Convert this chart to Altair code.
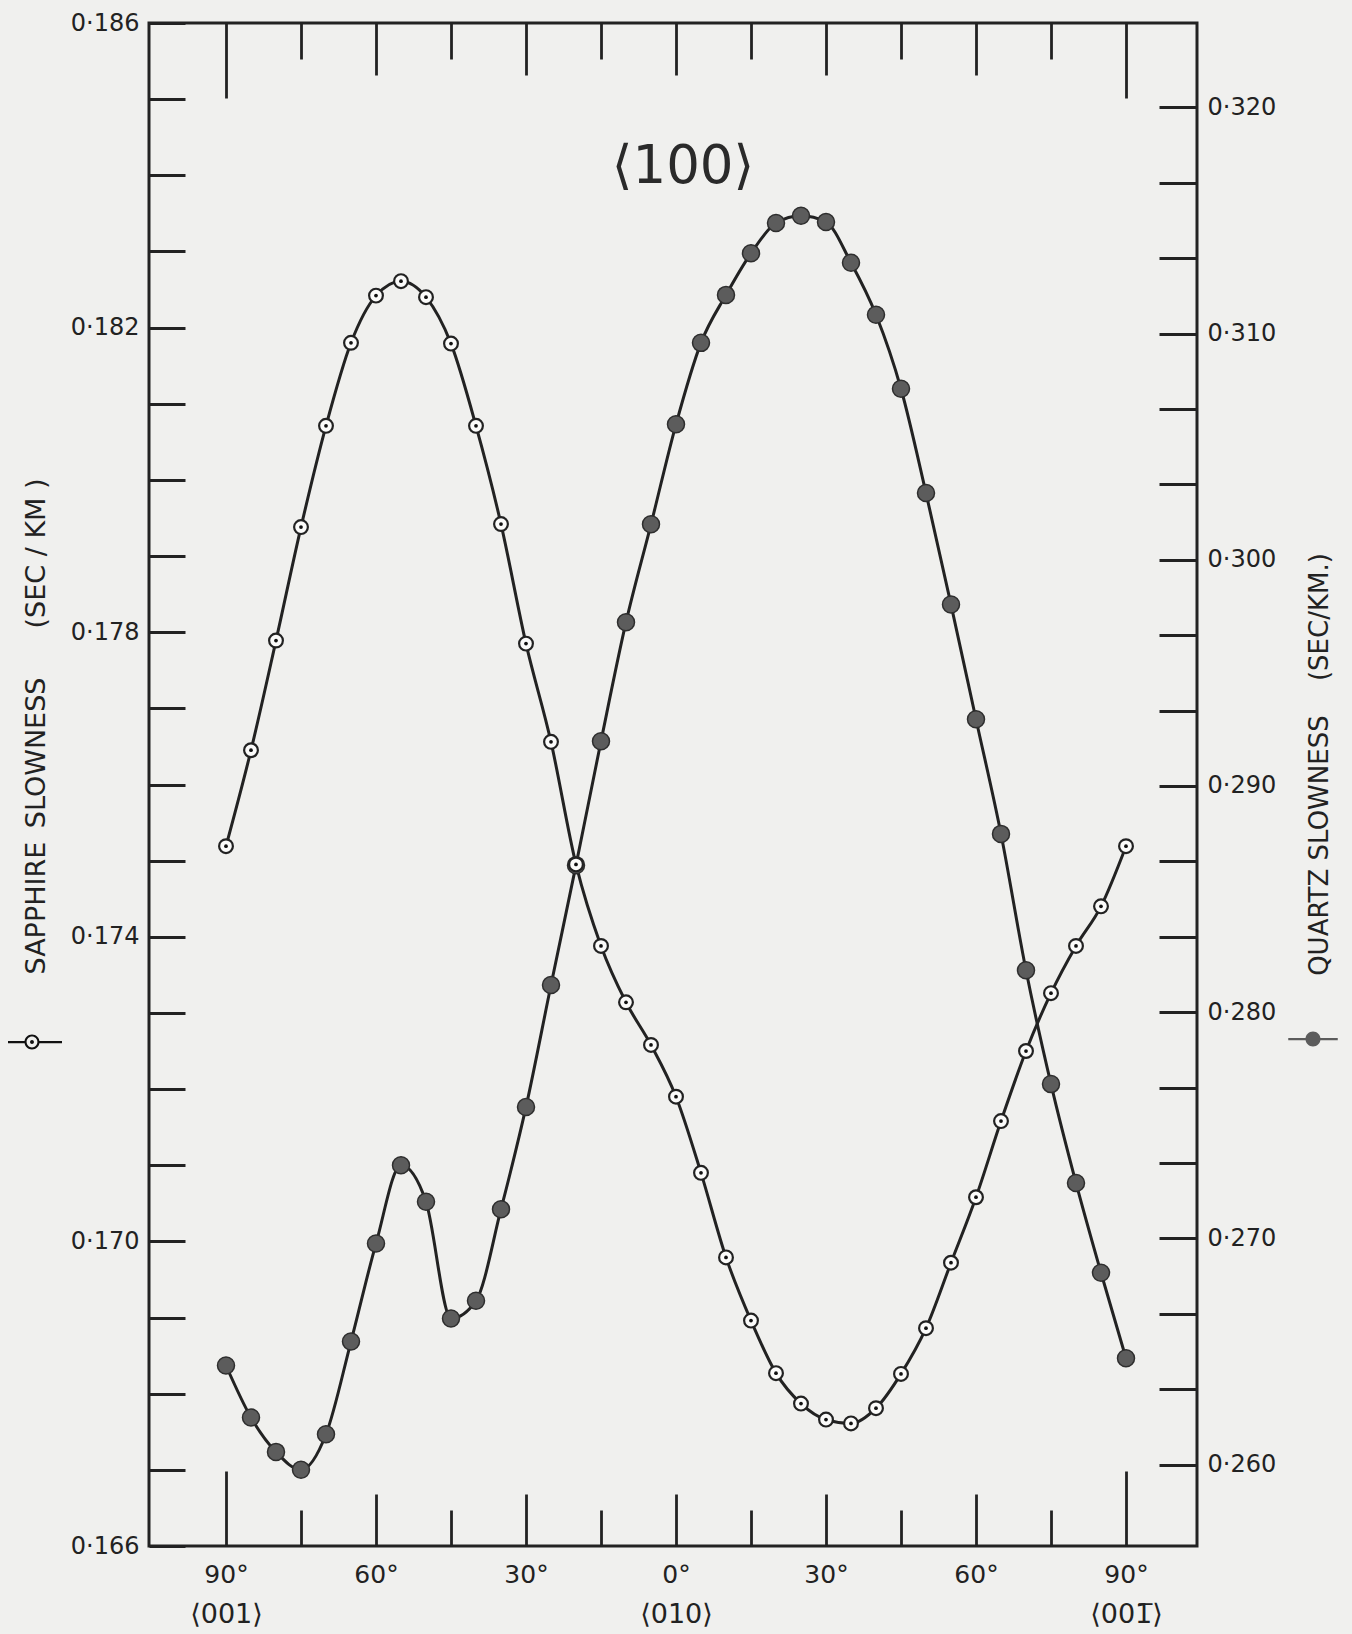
import altair as alt
import pandas as pd

# ---------------- data ----------------
ANGLES = [-90, -85, -80, -75, -70, -65, -60, -55, -50, -45, -40, -35, -30, -25,
          -20, -15, -10, -5, 0, 5, 10, 15, 20, 25, 30, 35, 40, 45, 50, 55, 60,
          65, 70, 75, 80, 85, 90]

SAPPHIRE = [0.17519, 0.17645, 0.17789, 0.17938, 0.18071, 0.18180, 0.18242,
            0.18261, 0.18240, 0.18179, 0.18071, 0.17942, 0.17785, 0.17656,
            0.17495, 0.17388, 0.17314, 0.17258, 0.17190, 0.17090, 0.16979,
            0.16896, 0.16827, 0.16787, 0.16766, 0.16761, 0.16781, 0.16826,
            0.16886, 0.16972, 0.17058, 0.17158, 0.17250, 0.17326, 0.17388,
            0.17440, 0.17519]

QUARTZ = [0.26438, 0.26208, 0.26056, 0.25977, 0.26134, 0.26544, 0.26977,
          0.27323, 0.27162, 0.26646, 0.26724, 0.27129, 0.27581, 0.28120,
          0.28650, 0.29198, 0.29724, 0.30157, 0.30599, 0.30959, 0.31171,
          0.31355, 0.31489, 0.31521, 0.31493, 0.31313, 0.31083, 0.30756,
          0.30295, 0.29802, 0.29295, 0.28788, 0.28185, 0.27682, 0.27245,
          0.26848, 0.26470]

X_TICKS = [-90, -75, -60, -45, -30, -15, 0, 15, 30, 45, 60, 75, 90]
X_LABEL_TICKS = [-90, -60, -30, 0, 30, 60, 90]
DIRECTION_TICKS = [-90, 0, 90]
SAPPHIRE_TICKS = [0.166, 0.167, 0.168, 0.169, 0.170, 0.171, 0.172, 0.173,
                  0.174, 0.175, 0.176, 0.177, 0.178, 0.179, 0.180, 0.181,
                  0.182, 0.183, 0.184, 0.185, 0.186]
SAPPHIRE_LABEL_TICKS = [0.166, 0.170, 0.174, 0.178, 0.182, 0.186]
QUARTZ_TICKS = [round(0.26 + k / 300, 6) for k in range(19)]
QUARTZ_LABEL_TICKS = [0.26, 0.27, 0.28, 0.29, 0.30, 0.31, 0.32]

X_DOMAIN = [-105.4, 104.2]
SAPPHIRE_DOMAIN = [0.166, 0.186]
QUARTZ_DOMAIN = [0.2564, 0.32373]

TITLE = "\u27e8100\u27e9"
LEFT_TITLE = "SAPPHIRE\u2002SLOWNESS\u2003\u2002 (SEC / KM )"
RIGHT_TITLE = "QUARTZ SLOWNESS\u2003 (SEC/KM.)"
DIR_EXPR = ("datum.value < 0 ? '\u27e8001\u27e9' : "
            "(datum.value > 0 ? '\u27e8001\u0305\u27e9' : '\u27e8010\u27e9')")

# ---------------- style ----------------
W, H = 1048, 1523
INK = "#222222"
PAPER = "#f0f0ee"
FONT = "DejaVu Sans"
Y_LABEL_EXPR = "replace(format(datum.value, '.3f'), '.', '\u00b7')"
TICK_SIZE_X = {"condition": [{"test": "abs(datum.value) == 90", "value": 75},
                             {"test": "datum.value % 30 == 0", "value": 52}],
               "value": 36}

SAPPHIRE_KEY = ("M-3.2,-0.15H-0.9V0.15H-3.2Z M0.9,-0.15H4V0.15H0.9Z "
                "M1,0A1,1,0,1,1,-1,0A1,1,0,1,1,1,0Z "
                "M0.72,0A0.72,0.72,0,1,0,-0.72,0A0.72,0.72,0,1,0,0.72,0Z "
                "M0.26,0A0.26,0.26,0,1,1,-0.26,0A0.26,0.26,0,1,1,0.26,0Z")
QUARTZ_KEY = ("M-3.3,-0.15H-0.9V0.15H-3.3Z M0.9,-0.15H3.3V0.15H0.9Z "
              "M1,0A1,1,0,1,1,-1,0A1,1,0,1,1,1,0Z")

df = pd.DataFrame({"angle": ANGLES, "sapphire": SAPPHIRE, "quartz": QUARTZ})
base = alt.Chart(df)

xs = alt.Scale(domain=X_DOMAIN, nice=False, zero=False)
ys = alt.Scale(domain=SAPPHIRE_DOMAIN, nice=False, zero=False)
yq = alt.Scale(domain=QUARTZ_DOMAIN, nice=False, zero=False)


def tick_axis(orient, values, size, offset):
    return alt.Axis(orient=orient, values=values, offset=offset, labels=False,
                    domain=False, grid=False, ticks=True, tickSize=size,
                    tickWidth=2.8, tickColor=INK, title=None)


def label_axis(orient, values, expr, pad, size):
    return dict(orient=orient, values=values, labelExpr=expr, ticks=False,
                tickSize=0, domain=False, grid=False, labelPadding=pad,
                labelFontSize=size, labelFont=FONT, labelColor=INK)


def key_legend(x, y, path, fill):
    return alt.Legend(orient="none", legendX=x, legendY=y, title=None,
                      labelExpr="''", symbolType=path, symbolSize=225,
                      symbolFillColor=fill, symbolStrokeWidth=0,
                      symbolOpacity=1, padding=0, labelFontSize=1)


# quartz line: top inward x ticks, right labels
q_line = base.mark_line(color=INK, strokeWidth=3, interpolate="monotone").encode(
    x=alt.X("angle:Q", scale=xs, axis=tick_axis("bottom", X_TICKS, TICK_SIZE_X, -H)),
    y=alt.Y("quartz:Q", scale=yq, axis=alt.Axis(
        **label_axis("right", QUARTZ_LABEL_TICKS, Y_LABEL_EXPR, 10, 24),
        title=RIGHT_TITLE, titleAngle=270, titleX=122, titleY=741,
        titleAlign="center", titleBaseline="middle", titleFontSize=26,
        titleFontWeight="normal", titleFont=FONT, titleColor=INK)),
)

# sapphire line: bottom degree labels, left labels
s_line = base.mark_line(color=INK, strokeWidth=3, interpolate="monotone").encode(
    x=alt.X("angle:Q", scale=xs, axis=alt.Axis(
        **label_axis("bottom", X_LABEL_TICKS, "abs(datum.value) + '\u00b0'", 28, 25),
        labelBaseline="middle", title=None)),
    y=alt.Y("sapphire:Q", scale=ys, axis=alt.Axis(
        **label_axis("left", SAPPHIRE_LABEL_TICKS, Y_LABEL_EXPR, 10, 24),
        title=LEFT_TITLE, titleAngle=270, titleX=-113, titleY=703,
        titleAlign="center", titleBaseline="middle", titleFontSize=27,
        titleFontWeight="normal", titleFont=FONT, titleColor=INK)),
)

# quartz points: bottom inward x ticks, right inward y ticks, legend key
q_pts = base.transform_calculate(series="'Quartz'").mark_point(
    filled=True, fill="#5c5c5c", stroke="#2e2e2e", strokeWidth=1.5, size=290
).encode(
    x=alt.X("angle:Q", scale=xs, axis=tick_axis("top", X_TICKS, TICK_SIZE_X, -H)),
    y=alt.Y("quartz:Q", scale=yq, axis=tick_axis("left", QUARTZ_TICKS, 38, -W)),
    opacity=alt.Opacity("series:O", scale=alt.Scale(range=[1]),
                        legend=key_legend(1156.5, 1008.5, QUARTZ_KEY, "#4a4a4a")),
)

# sapphire points: direction labels, left inward y ticks
s_pts = base.mark_point(
    filled=False, fill="#fbfbfa", stroke=INK, strokeWidth=2.2, size=190, opacity=1,
    shape="circle"
).encode(
    x=alt.X("angle:Q", scale=xs, axis=alt.Axis(
        **label_axis("bottom", DIRECTION_TICKS, DIR_EXPR, 68, 27),
        labelBaseline="middle", title=None)),
    y=alt.Y("sapphire:Q", scale=ys, axis=tick_axis("right", SAPPHIRE_TICKS, 36, -W)),
)

# sapphire centre dots, legend key
s_dots = base.transform_calculate(series="'Sapphire'").mark_point(
    filled=True, color="#111111", size=14
).encode(
    x=alt.X("angle:Q", scale=xs, axis=None),
    y=alt.Y("sapphire:Q", scale=ys, axis=None),
    opacity=alt.Opacity("series:O", scale=alt.Scale(range=[1]),
                        legend=key_legend(-124.5, 1011.5, SAPPHIRE_KEY, "#111111")),
)

chart = alt.layer(q_line, s_line, q_pts, s_pts, s_dots).resolve_scale(
    y="independent", opacity="independent"
).resolve_axis(
    x="independent", y="independent"
).resolve_legend(
    opacity="independent"
).properties(
    width=W, height=H,
    autosize=alt.AutoSizeParams(type="none"),
    padding={"left": 149, "top": 23, "right": 155, "bottom": 88},
    background=PAPER,
    title=alt.TitleParams(TITLE, fontSize=53, font=FONT, fontWeight="normal",
                          color="#2a2a2a", frame="group", anchor="middle",
                          offset=-183, dx=10),
).configure_view(
    stroke=INK, strokeWidth=3
).configure_axis(grid=False)

chart.save("out.html", embed_options={"renderer": "svg", "actions": False})
